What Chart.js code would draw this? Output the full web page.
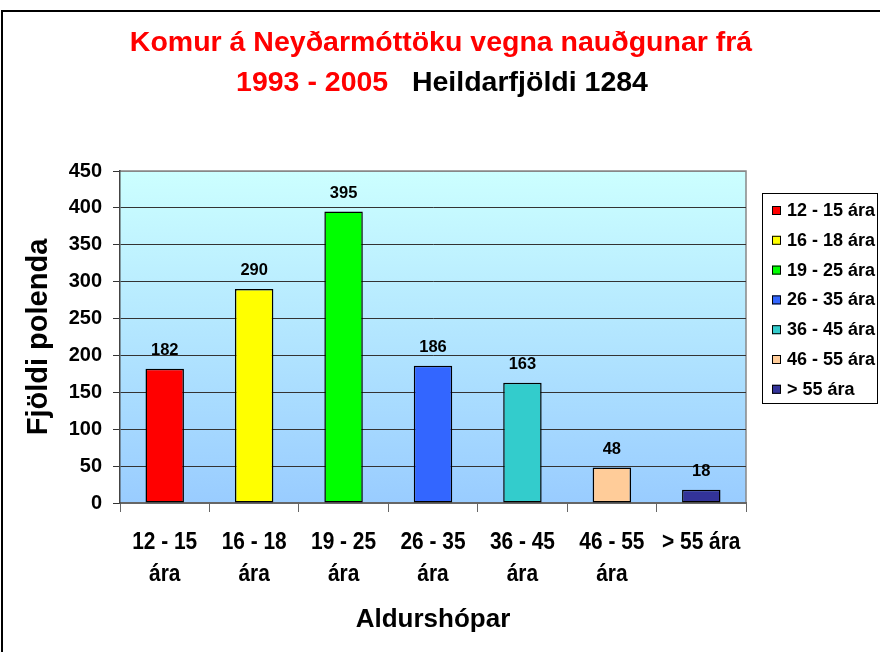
<!DOCTYPE html>
<html>
<head>
<meta charset="utf-8">
<script src="https://cdn.jsdelivr.net/npm/chart.js@4.4.1/dist/chart.umd.min.js"></script>
<style>
    html, body { margin: 0; padding: 0; background: #fff; }
    #chart { display: block; }
</style>
</head>
<body>
<canvas id="chart" width="880" height="652"></canvas>
<script>
// data
const categories = [['12 - 15', 'ára'], ['16 - 18', 'ára'], ['19 - 25', 'ára'], ['26 - 35', 'ára'], ['36 - 45', 'ára'], ['46 - 55', 'ára'], '> 55 ára'];
const legendLabels = ['12 - 15 ára', '16 - 18 ára', '19 - 25 ára', '26 - 35 ára', '36 - 45 ára', '46 - 55 ára', '> 55 ára'];
const counts = [182, 290, 395, 186, 163, 48, 18];
const barColors = ['#ff0000', '#ffff00', '#00ff00', '#3366ff', '#33cccc', '#ffcc99', '#333399'];
const yMax = 450;
const yStep = 50;

const titleLine1 = 'Komur á Neyðarmóttöku vegna nauðgunar frá';
const titleYears = '1993 - 2005';
const titleTotal = 'Heildarfjöldi 1284';

const FONT = '"Liberation Sans", Arial, sans-serif';

// frame, plot background, titles
const decor = {
    id: 'decor',
    beforeDraw(chart) {
        const ctx = chart.ctx;
        const a = chart.chartArea;
        ctx.save();
        ctx.fillStyle = '#fff';
        ctx.fillRect(0, 0, chart.width, chart.height);
        ctx.strokeStyle = '#000';
        ctx.lineWidth = 2;
        ctx.beginPath();
        ctx.moveTo(2, chart.height);
        ctx.lineTo(2, 11);
        ctx.lineTo(chart.width, 11);
        ctx.stroke();

        const g = ctx.createLinearGradient(0, a.top, 0, a.bottom);
        g.addColorStop(0, '#ccffff');
        g.addColorStop(1, '#99ccff');
        ctx.fillStyle = g;
        ctx.fillRect(a.left, a.top, a.right - a.left, a.bottom - a.top);
        ctx.strokeStyle = '#888';
        ctx.lineWidth = 1.5;
        ctx.beginPath();
        ctx.moveTo(a.left, a.top);
        ctx.lineTo(a.right, a.top);
        ctx.lineTo(a.right, a.bottom);
        ctx.stroke();

        ctx.textBaseline = 'middle';
        ctx.font = 'bold 28.5px ' + FONT;
        ctx.textAlign = 'center';
        ctx.fillStyle = '#ff0000';
        ctx.fillText(titleLine1, 441, 43);

        const gap = '   ';
        const w1 = ctx.measureText(titleYears).width;
        const wg = ctx.measureText(gap).width;
        const w2 = ctx.measureText(titleTotal).width;
        let x = 442 - (w1 + wg + w2) / 2;
        ctx.textAlign = 'left';
        ctx.fillText(titleYears, x, 83);
        ctx.fillStyle = '#000';
        ctx.fillText(titleTotal, x + w1 + wg, 83);
        ctx.restore();
    },
    afterDatasetsDraw(chart) {
        const ctx = chart.ctx;
        const meta = chart.getDatasetMeta(0);
        ctx.save();
        ctx.font = 'bold 16.5px ' + FONT;
        ctx.fillStyle = '#000';
        ctx.textAlign = 'center';
        ctx.textBaseline = 'bottom';
        meta.data.forEach((bar, i) => {
            ctx.fillText(String(counts[i]), bar.x, bar.y - 10);
        });
        ctx.restore();
    },
    afterDraw(chart) {
        const ctx = chart.ctx;
        ctx.save();

        // category labels, slightly condensed like the original
        const xs = chart.scales.x;
        ctx.font = 'bold 24px ' + FONT;
        ctx.fillStyle = '#000';
        ctx.textAlign = 'center';
        ctx.textBaseline = 'alphabetic';
        categories.forEach((lab, i) => {
            const lines = Array.isArray(lab) ? lab : [lab];
            const x = xs.getPixelForTick(i);
            lines.forEach((line, j) => {
                ctx.save();
                ctx.translate(x, xs.top + 46 + j * 32);
                ctx.scale(0.87, 1);
                ctx.fillText(line, 0, 0);
                ctx.restore();
            });
        });

        // legend box on the right
        ctx.strokeStyle = '#000';
        ctx.lineWidth = 1;
        ctx.strokeRect(762.5, 193.5, 115, 210);
        ctx.font = 'bold 18px ' + FONT;
        ctx.textBaseline = 'middle';
        ctx.textAlign = 'left';
        legendLabels.forEach((label, i) => {
            const y = 210 + i * 29.8;
            ctx.fillStyle = barColors[i];
            ctx.fillRect(772, y - 4, 9, 9);
            ctx.strokeStyle = '#000';
            ctx.strokeRect(772.5, y - 3.5, 8, 8);
            ctx.fillStyle = '#000';
            ctx.fillText(label, 787, y + 1);
        });
        ctx.restore();
    }
};

const chart = document.querySelector('#chart').getContext('2d');

new Chart(chart, {
    type: 'bar',
    data: {
        labels: categories,
        datasets: [
            {
                label: 'Fjöldi',
                data: counts,
                backgroundColor: barColors,
                borderColor: '#000',
                borderWidth: 1.5,
                borderSkipped: false,
                categoryPercentage: 1,
                barPercentage: 0.43
            }
        ]
    },
    options: {
        responsive: false,
        animation: false,
        layout: { padding: { top: 171, right: 134, left: 0, bottom: 0 } },
        plugins: {
            legend: { display: false },
            title: { display: false },
            tooltip: { enabled: false }
        },
        scales: {
            x: {
                afterFit: s => { s.height = 149; },
                grid: { drawOnChartArea: false, drawTicks: true, tickLength: 9, tickColor: '#666', offset: true },
                border: { color: '#666', width: 2 },
                ticks: { display: false },
                title: {
                    display: true,
                    text: 'Aldurshópar',
                    color: '#000',
                    font: { family: FONT, size: 26, weight: 'bold' },
                    padding: { top: 0, bottom: 17 }
                }
            },
            y: {
                min: 0,
                max: yMax,
                afterFit: s => { s.width = 120; },
                grid: {
                    color: ctx => ctx.tick && ctx.tick.value === yMax ? '#888' : '#333',
                    lineWidth: 1,
                    drawTicks: true,
                    tickLength: 7,
                    tickColor: '#333'
                },
                border: { color: '#444', width: 1.5 },
                ticks: {
                    stepSize: yStep,
                    color: '#000',
                    font: { family: FONT, size: 20, weight: 'bold' },
                    padding: 11
                },
                title: {
                    display: true,
                    text: 'Fjöldi polenda',
                    color: '#000',
                    font: { family: FONT, size: 29, weight: 'bold' },
                    padding: { top: 22, bottom: 0 }
                }
            }
        }
    },
    plugins: [decor]
});
</script>
</body>
</html>
